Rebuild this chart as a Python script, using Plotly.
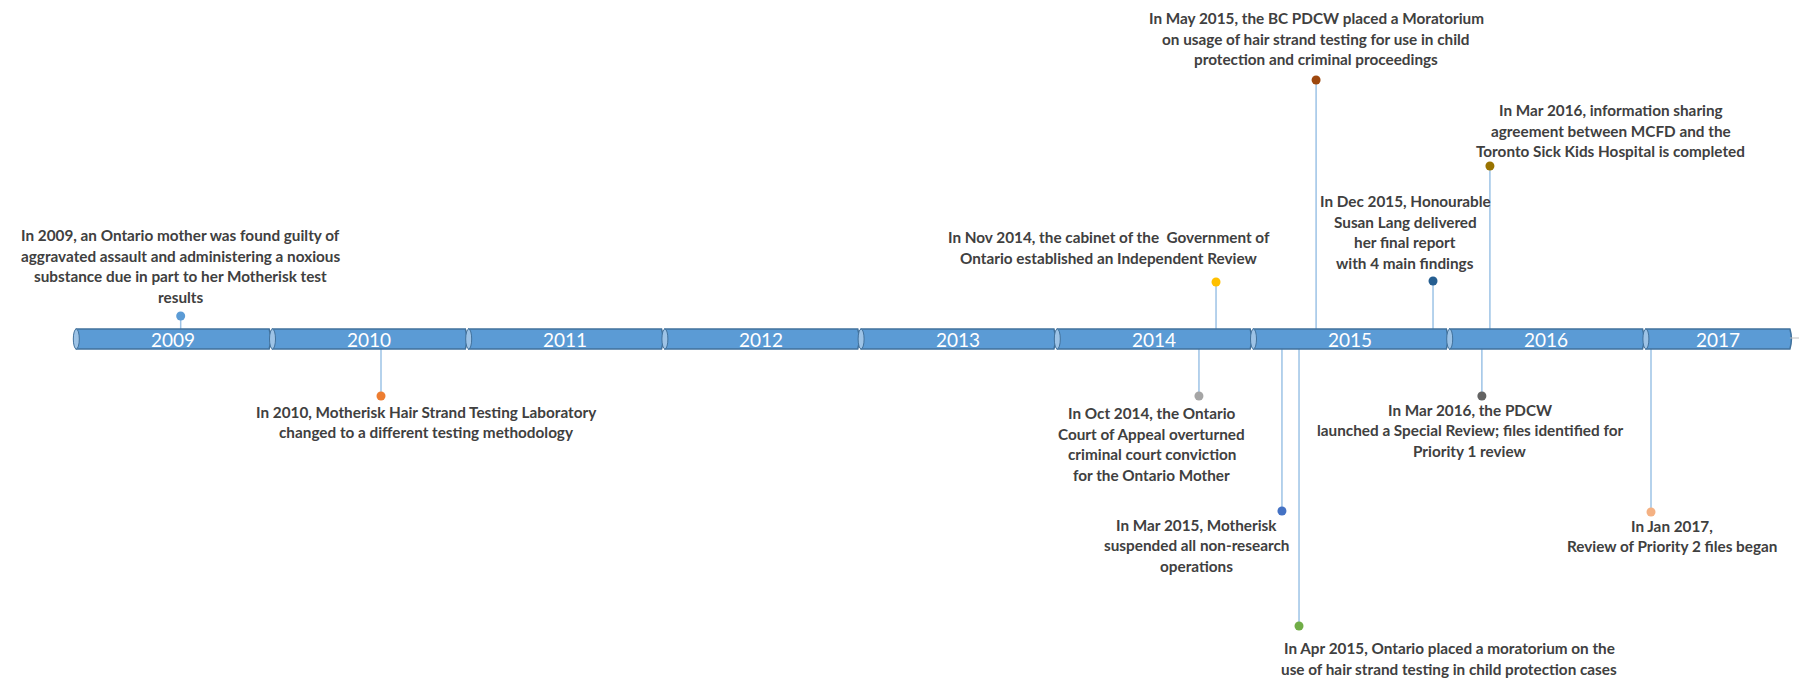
import plotly.graph_objects as go

# ---------------- data ----------------
years = [2009, 2010, 2011, 2012, 2013, 2014, 2015, 2016, 2017]
segment_end = [2009.983, 2010.983, 2011.983, 2012.983, 2013.983,
               2014.983, 2015.983, 2016.983, 2017.734]

event_dates = [2009.532, 2010.553, 2014.722, 2014.809, 2015.145, 2015.232,
               2015.319, 2015.915, 2016.205, 2016.164, 2017.026]
event_heights = [23, -57, -57, 57, -172, -287, 259, 58, 173, -57, -173]
event_colors = ["#5B9BD5", "#ED7D31", "#A5A5A5", "#FFC000", "#4472C4", "#70AD47",
                "#9E480E", "#255E91", "#997300", "#636363", "#F4B183"]
event_texts = [
    "In 2009, an Ontario mother was found guilty of<br>aggravated assault and administering a noxious<br>substance due in part to her Motherisk test<br>results",
    "In 2010, Motherisk Hair Strand Testing Laboratory<br>changed to a different testing methodology",
    "In Oct 2014, the Ontario<br>Court of Appeal overturned<br>criminal court conviction<br>for the Ontario Mother",
    "In Nov 2014, the cabinet of the  Government of<br>Ontario established an Independent Review",
    "In Mar 2015, Motherisk<br>suspended all non-research<br>operations",
    "In Apr 2015, Ontario placed a moratorium on the<br>use of hair strand testing in child protection cases",
    "In May 2015, the BC PDCW placed a Moratorium<br>on usage of hair strand testing for use in child<br>protection and criminal proceedings",
    "In Dec 2015, Honourable<br>Susan Lang delivered<br>her final report<br>with 4 main findings",
    "In Mar 2016, information sharing<br>agreement between MCFD and the<br>Toronto Sick Kids Hospital is completed",
    "In Mar 2016, the PDCW<br>launched a Special Review; files identified for<br>Priority 1 review",
    "In Jan 2017,<br>Review of Priority 2 files began",
]

# ---------------- layout helpers (pixel offsets of label blocks from dots) ----------------
label_dx = [0, 45, -47, -107, -85, 150, 0, -28, 121, -12, 21]
label_dy = [50, -26, -48, 34.5, -34, -32.5, 41.5, 49, 35.5, -34, -24]
LINE_GAP = 20.5
HALF = 10
PX_PER_YEAR = 196.2
X0_PX = 76.3
W, H = 1799, 678

fig = go.Figure()

# stems
sx, sy = [], []
for d, h in zip(event_dates, event_heights):
    sx += [d, d, None]
    sy += [HALF if h > 0 else -HALF, h, None]
fig.add_trace(go.Scatter(x=sx, y=sy, mode="lines",
                         line=dict(color="#9DC3E6", width=1.5),
                         hoverinfo="skip", showlegend=False))
# dots
fig.add_trace(go.Scatter(x=event_dates, y=event_heights, mode="markers",
                         marker=dict(size=9, color=event_colors),
                         hoverinfo="skip", showlegend=False))

shapes = []
annotations = []
bulge = 3 / PX_PER_YEAR
for yr, end in zip(years, segment_end):
    shapes.append(dict(type="path", xref="x", yref="y",
                       path=f"M {yr},{-HALF} L {end},{-HALF} Q {end + bulge},0 {end},{HALF} L {yr},{HALF} Z",
                       fillcolor="#5B9BD5", line=dict(color="#41719C", width=1.5)))
    shapes.append(dict(type="circle", xref="x", yref="y", xsizemode="pixel", xanchor=yr,
                       x0=-3, x1=3, y0=-HALF, y1=HALF,
                       fillcolor="#9DC3E6", line=dict(color="#41719C", width=1)))
    annotations.append(dict(x=(yr + end) / 2, y=0, xref="x", yref="y", text=str(yr),
                            showarrow=False, xanchor="center", yanchor="middle",
                            font=dict(family="Lato", size=19, color="white")))

x_left = years[0] - X0_PX / PX_PER_YEAR
x_right = years[0] + (W - X0_PX) / PX_PER_YEAR
shapes.append(dict(type="line", xref="x", yref="y", x0=segment_end[-1], x1=x_right,
                   y0=1, y1=1, line=dict(color="#BFBFBF", width=1)))

for d, h, txt, dx, dy in zip(event_dates, event_heights, event_texts, label_dx, label_dy):
    lines = txt.split("<br>")
    n = len(lines)
    cy = h + dy
    for i, ln in enumerate(lines):
        yy = cy + ((n - 1) / 2 - i) * LINE_GAP
        annotations.append(dict(x=d, y=yy, xref="x", yref="y", xshift=dx,
                                text=f"<b>{ln}</b>", showarrow=False,
                                xanchor="center", yanchor="middle",
                                font=dict(family="Lato", size=15.3, color="#404040")))

fig.update_layout(
    width=W, height=H, margin=dict(l=0, r=0, t=0, b=0),
    paper_bgcolor="white", plot_bgcolor="white",
    xaxis=dict(range=[x_left, x_right], visible=False, fixedrange=True),
    yaxis=dict(range=[-H / 2, H / 2], visible=False, fixedrange=True),
    shapes=shapes, annotations=annotations, showlegend=False,
)

fig.write_html("out.html")
